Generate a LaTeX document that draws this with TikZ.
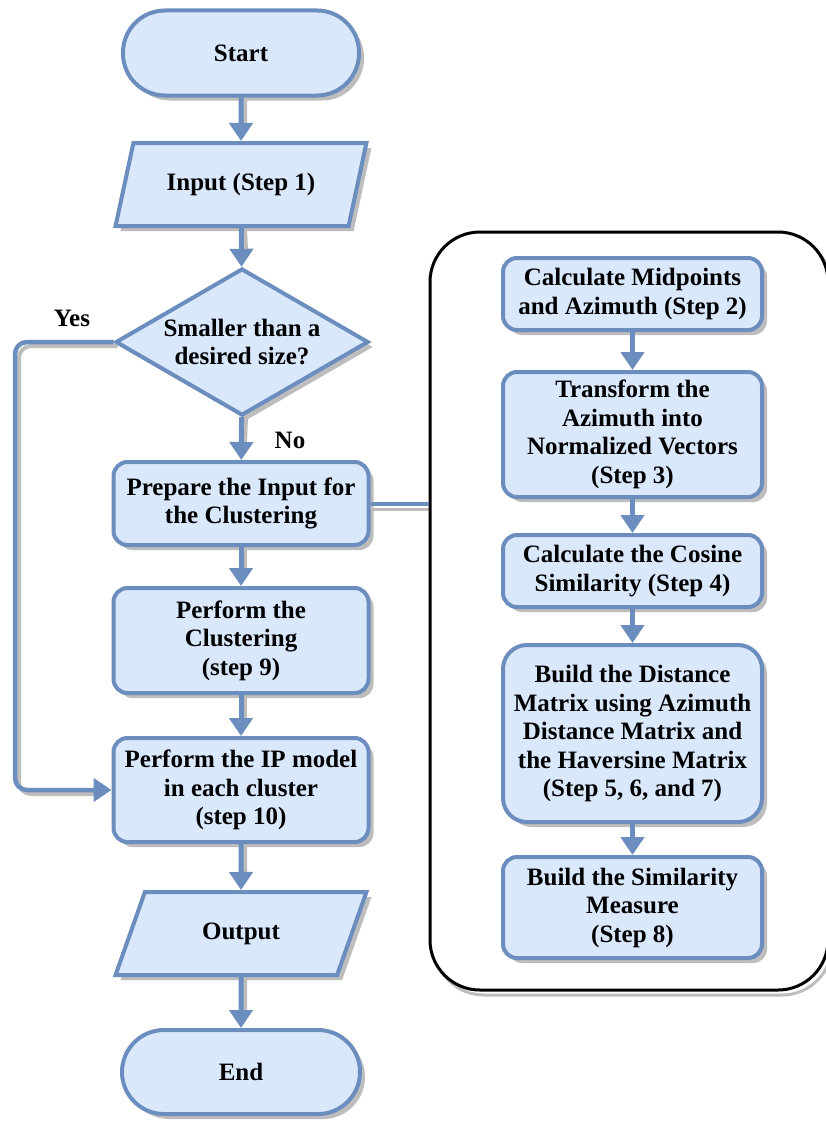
\documentclass[tikz,border=0pt]{standalone}
\usepackage{fontspec}
\setmainfont{Liberation Serif}
\usetikzlibrary{shapes.geometric,arrows.meta,calc,backgrounds}

\definecolor{boxfill}{HTML}{DAE8FC}
\definecolor{boxline}{HTML}{6C8EBF}
\definecolor{shade}{HTML}{BDBDBD}

\tikzset{
  txt/.style={font=\fontsize{25}{28.5}\selectfont\bfseries},
  shadowed/.style={preaction={draw=none, fill=shade,
    transform canvas={xshift=#1, yshift=-#1}}},
  base/.style={txt, draw=boxline, fill=boxfill, line width=4pt, align=center,
    inner sep=0pt, shadowed=5pt},
  proc/.style={base, rectangle, rounded corners=14pt},
  term/.style={base, rectangle, rounded corners=42pt},
  decision/.style={base, diamond, aspect=1.72, inner sep=-6pt},
  iobox/.style={base, trapezium, trapezium left angle=61.5,
    trapezium right angle=118.5, trapezium stretches=true},
  flow/.style={draw=boxline, line width=5pt, -{Triangle[width=23pt,length=18pt]}},
  flowshade/.style={draw=shade, line width=4pt},
  group/.style={draw=black, fill=white, line width=3pt, rounded corners=50pt,
    preaction={draw=shade, line width=3pt, transform canvas={xshift=4pt, yshift=-5pt}}},
  lbl/.style={txt}
}

\begin{document}
\begin{tikzpicture}[x=1pt,y=-1pt]
\clip (0,0) rectangle (826,1124);
\begin{scope}[on background layer]
  \fill[white] (0,0) rectangle (826,1124);
\end{scope}

% main flow
\node[term, minimum width=236pt, minimum height=85pt] (start) at (241,53) {Start};
\node[iobox, minimum width=251pt, minimum height=83pt] (in) at (241,184.5) {Input (Step 1)};
\node[decision, minimum width=253pt, minimum height=147pt] (dec) at (242,342) {Smaller than a\\desired size?};
\node[proc, minimum width=255pt, minimum height=83pt] (prep) at (241,503.5) {Prepare the Input for\\the Clustering};
\node[proc, minimum width=255pt, minimum height=105pt] (clus) at (241,640.5) {Perform the\\Clustering\\(step 9)};
\node[proc, minimum width=255pt, minimum height=104pt] (ip) at (241,790) {Perform the IP model\\in each cluster\\(step 10)};
\node[iobox, minimum width=251pt, minimum height=83pt] (out) at (241,933.5) {Output};
\node[term, minimum width=238pt, minimum height=84pt] (end) at (241,1072) {End};

\node[lbl] (yes) at (72,318) {Yes};
\node[lbl] (no) at (290,440) {No};

% preparation sub-steps
\node[group, minimum width=398pt, minimum height=758pt] (grp) at (629,611) {};
\node[proc, minimum width=259pt, minimum height=72pt] (mid) at (632.5,294) {Calculate Midpoints\\and Azimuth (Step 2)};
\node[proc, minimum width=259pt, minimum height=125pt] (trans) at (632.5,434.5) {Transform the\\Azimuth into\\Normalized Vectors\\(Step 3)};
\node[proc, minimum width=259pt, minimum height=72pt] (cos) at (632.5,571) {Calculate the Cosine\\Similarity (Step 4)};
\node[proc, rounded corners=24pt, minimum width=259pt, minimum height=177pt] (dist) at (632.5,733.5) {Build the Distance\\Matrix using Azimuth\\Distance Matrix and\\the Haversine Matrix\\(Step 5, 6, and 7)};
\node[proc, minimum width=259pt, minimum height=101pt] (sim) at (632.5,907.5) {Build the Similarity\\Measure\\(Step 8)};

\coordinate (loopx) at (15,0);

% connector shadows
\begin{scope}[on background layer]
  \foreach \a/\b in {start/in, in/dec, dec/prep, prep/clus, clus/ip, ip/out, out/end,
                     mid/trans, trans/cos, cos/dist, dist/sim}{
    \draw[flowshade] ([xshift=4pt]\a.south) -- ([xshift=4pt,yshift=17pt]\b.north);
  }
  \draw[flowshade, rounded corners=12pt, transform canvas={xshift=4pt,yshift=-4pt}]
    (dec.west) -- (dec.west -| loopx) -- (loopx |- ip.west) -- ([xshift=-18pt]ip.west);
  \draw[draw=shade, line width=3.5pt] ($(prep.east)+(0,6)$) -- ($(prep.east -| grp.west)+(0,6)$);
\end{scope}

% connectors
\foreach \a/\b in {start/in, in/dec, dec/prep, prep/clus, clus/ip, ip/out, out/end,
                   mid/trans, trans/cos, cos/dist, dist/sim}{
  \draw[flow] (\a) -- (\b);
}
\draw[flow, line width=4.5pt, rounded corners=12pt]
  (dec.west) -- (dec.west -| loopx) -- (loopx |- ip.west) -- (ip.west);
\draw[draw=boxline, line width=4pt] (prep.east) -- (prep.east -| grp.west);

\end{tikzpicture}
\end{document}
